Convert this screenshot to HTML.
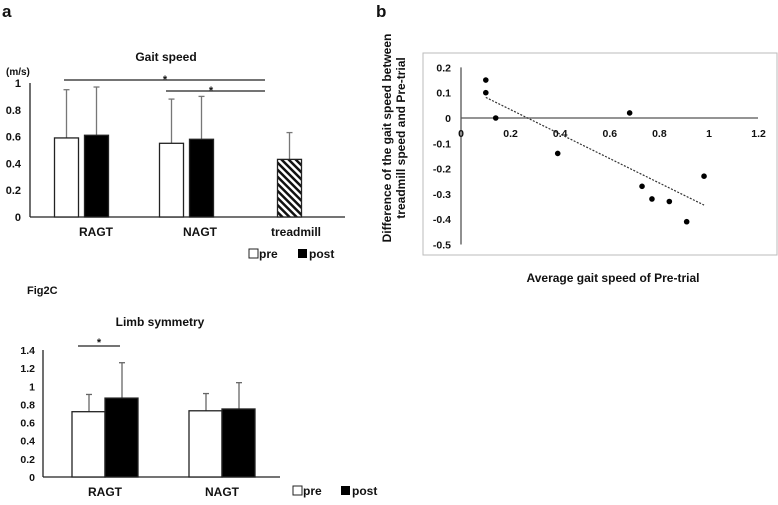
<!DOCTYPE html>
<html><head><meta charset="utf-8"><style>
body{margin:0;background:#fff;width:778px;height:500px;overflow:hidden}
svg{font-family:"Liberation Sans",Arial,sans-serif;font-weight:bold;fill:#111}
</style></head><body>
<svg id="s" width="778" height="500" viewBox="0 0 778 500">
<defs><pattern id="hatch" width="5" height="5" patternUnits="userSpaceOnUse" patternTransform="rotate(-45)"><rect width="5" height="5" fill="#fff"/><rect width="2.5" height="5" fill="#111"/></pattern></defs>
<text x="2" y="17" font-size="17">a</text>
<text x="376" y="17" font-size="17">b</text>
<g id="ga"></g>
<g id="gc"></g>
<g id="gb"></g>
</svg>
<script>
const gaitCats=["RAGT","NAGT","treadmill"];
const gaitPre=[0.59,0.55,0.43];
const gaitPreErr=[0.95,0.88,0.63];
const gaitPost=[0.61,0.58,null];
const gaitPostErr=[0.97,0.90,null];
const gaitTicks=["0","0.2","0.4","0.6","0.8","1"];
const limbCats=["RAGT","NAGT"];
const limbPre=[0.72,0.73];
const limbPreErr=[0.91,0.92];
const limbPost=[0.87,0.75];
const limbPostErr=[1.26,1.04];
const limbTicks=["0","0.2","0.4","0.6","0.8","1","1.2","1.4"];
const scX=[0.10,0.10,0.14,0.39,0.68,0.73,0.77,0.84,0.91,0.98];
const scY=[0.15,0.10,0.00,-0.14,0.02,-0.27,-0.32,-0.33,-0.41,-0.23];
const scXTicks=["0","0.2","0.4","0.6","0.8","1","1.2"];
const scYTicks=["0.2","0.1","0","-0.1","-0.2","-0.3","-0.4","-0.5"];
const NS="http://www.w3.org/2000/svg";
function el(p,t,a,txt){const e=document.createElementNS(NS,t);for(const k in a)e.setAttribute(k,a[k]);if(txt!=null)e.textContent=txt;p.appendChild(e);return e;}
// Gait speed
(function(){
const g=document.getElementById('ga');
const y=v=>217-v*134;
const slot=105, x0=30;
el(g,'line',{x1:30,y1:y(1),x2:30,y2:217,stroke:'#222','stroke-width':1.3});
el(g,'line',{x1:30,y1:217,x2:345,y2:217,stroke:'#222','stroke-width':1.3});
gaitTicks.forEach(t=>{const e=el(g,'text',{x:21,y:y(+t)+4,'font-size':11,'text-anchor':'end'},t);

});
const t1=el(g,'text',{x:166,y:61,'font-size':12,'text-anchor':'middle'},'Gait speed');

const u=el(g,'text',{x:6,y:75,'font-size':10},'(m/s)');

const lblX=[96,200,296];
gaitCats.forEach((c,i)=>{
 const cx=x0+slot*(i+0.5);
 function bar(v,err,bx,fill,nm){
  const eb=el(g,'line',{x1:bx+12,y1:y(err),x2:bx+12,y2:y(v),stroke:'#777','stroke-width':1.3});
  
  el(g,'line',{x1:bx+9,y1:y(err),x2:bx+15,y2:y(err),stroke:'#777','stroke-width':1.3});
  const r=el(g,'rect',{x:bx,y:y(v),width:24,height:217-y(v),fill:fill,stroke:'#222','stroke-width':1.3});
  
 }
 if(gaitPost[i]!=null){
  bar(gaitPre[i],gaitPreErr[i],cx-28,'#fff','bar-'+c.toLowerCase()+'-pre');
  bar(gaitPost[i],gaitPostErr[i],cx+2,'#000','bar-'+c.toLowerCase()+'-post');
 } else bar(gaitPre[i],gaitPreErr[i],cx-15,'url(#hatch)','bar-'+c.toLowerCase());
 const l=el(g,'text',{x:lblX[i],y:236,'font-size':12,'text-anchor':'middle'},c);
 
});
el(g,'line',{x1:64,y1:80,x2:265,y2:80,stroke:'#222','stroke-width':1.3});
el(g,'text',{x:165,y:83,'font-size':11,'text-anchor':'middle'},'*');
el(g,'line',{x1:166,y1:91,x2:265,y2:91,stroke:'#222','stroke-width':1.3});
el(g,'text',{x:211,y:94,'font-size':11,'text-anchor':'middle'},'*');
el(g,'rect',{x:249,y:249,width:9,height:9,fill:'#fff',stroke:'#222'});
el(g,'text',{x:259,y:258,'font-size':12},'pre');
el(g,'rect',{x:298,y:249,width:9,height:9,fill:'#000'});
el(g,'text',{x:309,y:258,'font-size':12},'post');
})();
// Limb symmetry
(function(){
const g=document.getElementById('gc');
const y=v=>477-v*90.7;
el(g,'text',{x:27,y:294,'font-size':11},'Fig2C');
const t=el(g,'text',{x:160,y:326,'font-size':12,'text-anchor':'middle'},'Limb symmetry');

el(g,'line',{x1:43,y1:y(1.4),x2:43,y2:477,stroke:'#222','stroke-width':1.3});
el(g,'line',{x1:43,y1:477,x2:280,y2:477,stroke:'#222','stroke-width':1.3});
limbTicks.forEach(tk=>{const e=el(g,'text',{x:35,y:y(+tk)+4,'font-size':10.5,'text-anchor':'end'},tk);

});
limbCats.forEach((c,i)=>{
 const cx=105+i*117;
 function bar(v,err,bx,fill,nm){
  el(g,'line',{x1:bx+17,y1:y(err),x2:bx+17,y2:y(v),stroke:'#666','stroke-width':1.3});
  el(g,'line',{x1:bx+14,y1:y(err),x2:bx+20,y2:y(err),stroke:'#666','stroke-width':1.3});
  const r=el(g,'rect',{x:bx,y:y(v),width:33,height:477-y(v),fill:fill,stroke:'#222','stroke-width':1.3});
  
 }
 bar(limbPre[i],limbPreErr[i],cx-33,'#fff','bar-'+c.toLowerCase()+'-pre');
 bar(limbPost[i],limbPostErr[i],cx,'#000','bar-'+c.toLowerCase()+'-post');
 const l=el(g,'text',{x:cx,y:496,'font-size':12,'text-anchor':'middle'},c);
 
});
el(g,'line',{x1:78,y1:346,x2:120,y2:346,stroke:'#222','stroke-width':1.3});
el(g,'text',{x:99,y:346,'font-size':11,'text-anchor':'middle'},'*');
el(g,'rect',{x:293,y:486,width:9,height:9,fill:'#fff',stroke:'#222'});
el(g,'text',{x:303,y:495,'font-size':12},'pre');
el(g,'rect',{x:341,y:486,width:9,height:9,fill:'#000'});
el(g,'text',{x:352,y:495,'font-size':12},'post');
})();
// Scatter
(function(){
const g=document.getElementById('gb');
const x=v=>461+v*248, y=v=>118-v*253;
el(g,'rect',{x:423,y:53,width:354,height:202,fill:'none',stroke:'#bbb','stroke-width':1});
el(g,'line',{x1:461,y1:y(0.2),x2:461,y2:y(-0.5),stroke:'#555','stroke-width':1.3});
el(g,'line',{x1:461,y1:118,x2:758,y2:118,stroke:'#555','stroke-width':1.3});
scYTicks.forEach(t=>{const e=el(g,'text',{x:451,y:y(+t)+4,'font-size':10.5,'text-anchor':'end'},t);

});
scXTicks.forEach(t=>{const e=el(g,'text',{x:x(+t),y:137,'font-size':10.5,'text-anchor':'middle'},t);

});
const n=scX.length,mx=scX.reduce((a,b)=>a+b)/n,my=scY.reduce((a,b)=>a+b)/n;
let sxy=0,sxx=0;for(let i=0;i<n;i++){sxy+=(scX[i]-mx)*(scY[i]-my);sxx+=(scX[i]-mx)**2;}
const b=sxy/sxx,a=my-b*mx,xmin=Math.min(...scX),xmax=Math.max(...scX);
const tl=el(g,'line',{x1:x(xmin),y1:y(a+b*xmin),x2:x(xmax),y2:y(a+b*xmax),stroke:'#333','stroke-width':1.2,'stroke-dasharray':'2,1.5'});

scX.forEach((v,i)=>{const c=el(g,'circle',{cx:x(v),cy:y(scY[i]),r:2.8,fill:'#000'});

});
const xt=el(g,'text',{x:613,y:282,'font-size':12,'text-anchor':'middle'},'Average gait speed of Pre-trial');

const yt=el(g,'text',{transform:'translate(391,138) rotate(-90)','font-size':12,'text-anchor':'middle'},'Difference of the gait speed between');

el(g,'text',{transform:'translate(405,138) rotate(-90)','font-size':12,'text-anchor':'middle'},'treadmill speed and Pre-trial');
})();
</script>
</body></html>
